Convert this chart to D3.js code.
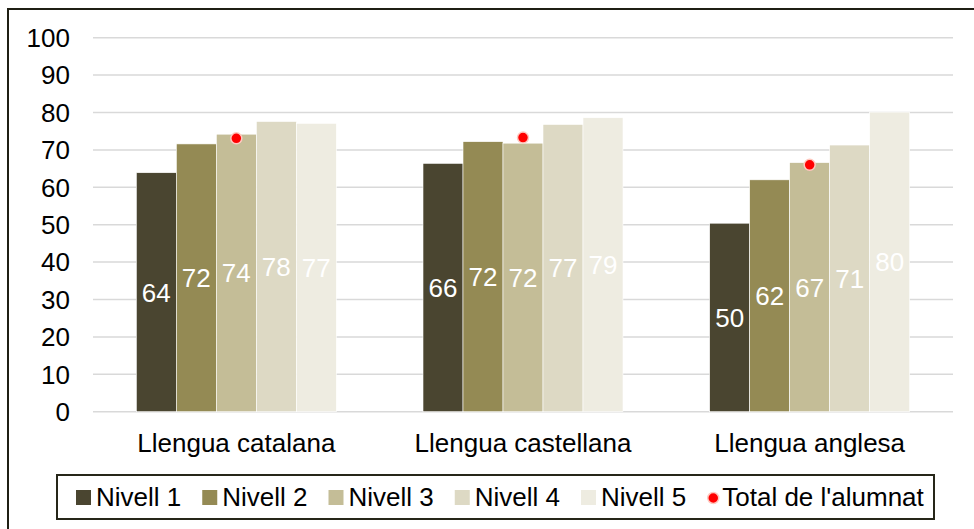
<!DOCTYPE html>
<html lang="ca">
<head>
    <meta charset="UTF-8">
    <title>Resultats per nivell</title>
    <script src="https://d3js.org/d3.v7.min.js"></script>
    <style>
        body { margin: 0; background: #fff; }
        text {
            font-family: 'Liberation Sans', Arial, sans-serif;
            font-size: 26px;
        }
    </style>
</head>
<body>
<script>
    const width  = 974;
    const height = 529;

    // data
    const categories = ["Llengua catalana", "Llengua castellana", "Llengua anglesa"];
    const levels = ["Nivell 1", "Nivell 2", "Nivell 3", "Nivell 4", "Nivell 5"];
    const nivell1 = [63.9, 66.4, 50.4];
    const nivell2 = [71.6, 72.2, 62.0];
    const nivell3 = [74.2, 71.8, 66.6];
    const nivell4 = [77.6, 76.8, 71.3];
    const nivell5 = [77.1, 78.6, 80.1];
    const total   = [73.1, 73.3, 66.0];
    const yTicks  = [0, 10, 20, 30, 40, 50, 60, 70, 80, 90, 100];
    const totalLabel = "Total de l'alumnat";

    const series = [nivell1, nivell2, nivell3, nivell4, nivell5];
    const colors = ["#4a4530", "#948a54", "#c4bd97", "#ddd9c4", "#eeece1"];

    const plot = {left: 93, right: 953, top: 37.7, bottom: 411.7};

    const svg = d3.select("body").append("svg")
            .attr("width", width).attr("height", height);

    // outer frame (runs off the right and bottom of the picture)
    svg.append("rect")
            .attr("x", 8).attr("y", 9)
            .attr("width", width + 10).attr("height", height + 10)
            .attr("fill", "#fff")
            .attr("stroke", "#1f1f14")
            .attr("stroke-width", 2);

    const y = d3.scaleLinear().domain([0, 100]).range([plot.bottom, plot.top]);
    const x0 = d3.scaleBand().domain(categories).range([plot.left, plot.right]);
    const groupW = 200;
    const pad = (x0.bandwidth() - groupW) / 2;
    const x1 = d3.scaleBand().domain(levels).range([pad, pad + groupW]);

    // gridlines
    svg.append("g").selectAll("line")
            .data(yTicks)
            .join("line")
            .attr("x1", plot.left).attr("x2", plot.right)
            .attr("y1", d => y(d)).attr("y2", d => y(d))
            .attr("stroke", "#d9d9d9")
            .attr("stroke-width", 1.5);

    // y axis labels
    svg.append("g").selectAll("text")
            .data(yTicks)
            .join("text")
            .attr("x", 70)
            .attr("y", d => y(d))
            .attr("dy", "0.36em")
            .attr("text-anchor", "end")
            .attr("fill", "#000")
            .text(d => d);

    // bars
    const groups = svg.append("g").selectAll("g")
            .data(categories)
            .join("g")
            .attr("transform", d => "translate(" + x0(d) + ",0)");

    const fmt = d3.format(".0f");

    groups.each(function(cat, ci) {
        const g = d3.select(this);
        const vals = series.map((s, li) => ({level: levels[li], v: s[ci], color: colors[li]}));

        g.selectAll("rect")
                .data(vals)
                .join("rect")
                .attr("x", d => x1(d.level))
                .attr("y", d => y(d.v))
                .attr("width", x1.bandwidth())
                .attr("height", d => y(0) - y(d.v))
                .attr("fill", d => d.color)
                .attr("stroke", "#fff")
                .attr("stroke-width", 0.6);

        g.selectAll("text.val")
                .data(vals)
                .join("text").attr("class", "val")
                .attr("x", d => x1(d.level) + x1.bandwidth() / 2)
                .attr("y", d => (y(d.v) + y(0)) / 2)
                .attr("dy", "0.36em")
                .attr("text-anchor", "middle")
                .attr("fill", "#fff")
                .text(d => fmt(d.v));

        g.append("circle")
                .attr("cx", x1("Nivell 3") + x1.bandwidth() / 2)
                .attr("cy", y(total[ci]))
                .attr("r", 5.5)
                .attr("fill", "#ff0000")
                .attr("stroke", "#ffc9c0")
                .attr("stroke-width", 1.5);
    });

    // category labels
    svg.append("g").selectAll("text")
            .data(categories)
            .join("text")
            .attr("x", d => x0(d) + x0.bandwidth() / 2)
            .attr("y", 452)
            .attr("text-anchor", "middle")
            .attr("fill", "#000")
            .text(d => d);

    // legend
    const legend = svg.append("g");
    legend.append("rect")
            .attr("x", 57).attr("y", 475)
            .attr("width", 877).attr("height", 44)
            .attr("fill", "#fff")
            .attr("stroke", "#262619")
            .attr("stroke-width", 2);

    let lx = 76;
    const legendItems = levels.map((l, i) => ({name: l, color: colors[i], dot: false}))
            .concat([{name: totalLabel, color: "#ff0000", dot: true}]);

    legendItems.forEach(item => {
        if (item.dot) {
            legend.append("circle")
                    .attr("cx", lx + 6).attr("cy", 498)
                    .attr("r", 5.5)
                    .attr("fill", item.color)
                    .attr("stroke", "#ffc9c0")
                    .attr("stroke-width", 1.5);
            lx += 15;
        } else {
            legend.append("rect")
                    .attr("x", lx).attr("y", 490)
                    .attr("width", 15).attr("height", 15)
                    .attr("fill", item.color);
            lx += 20;
        }
        const t = legend.append("text")
                .attr("x", lx).attr("y", 506)
                .attr("font-size", "25.5px")
                .attr("fill", "#000")
                .text(item.name);
        lx += t.node().getComputedTextLength() + 21;
    });
</script>
</body>
</html>
